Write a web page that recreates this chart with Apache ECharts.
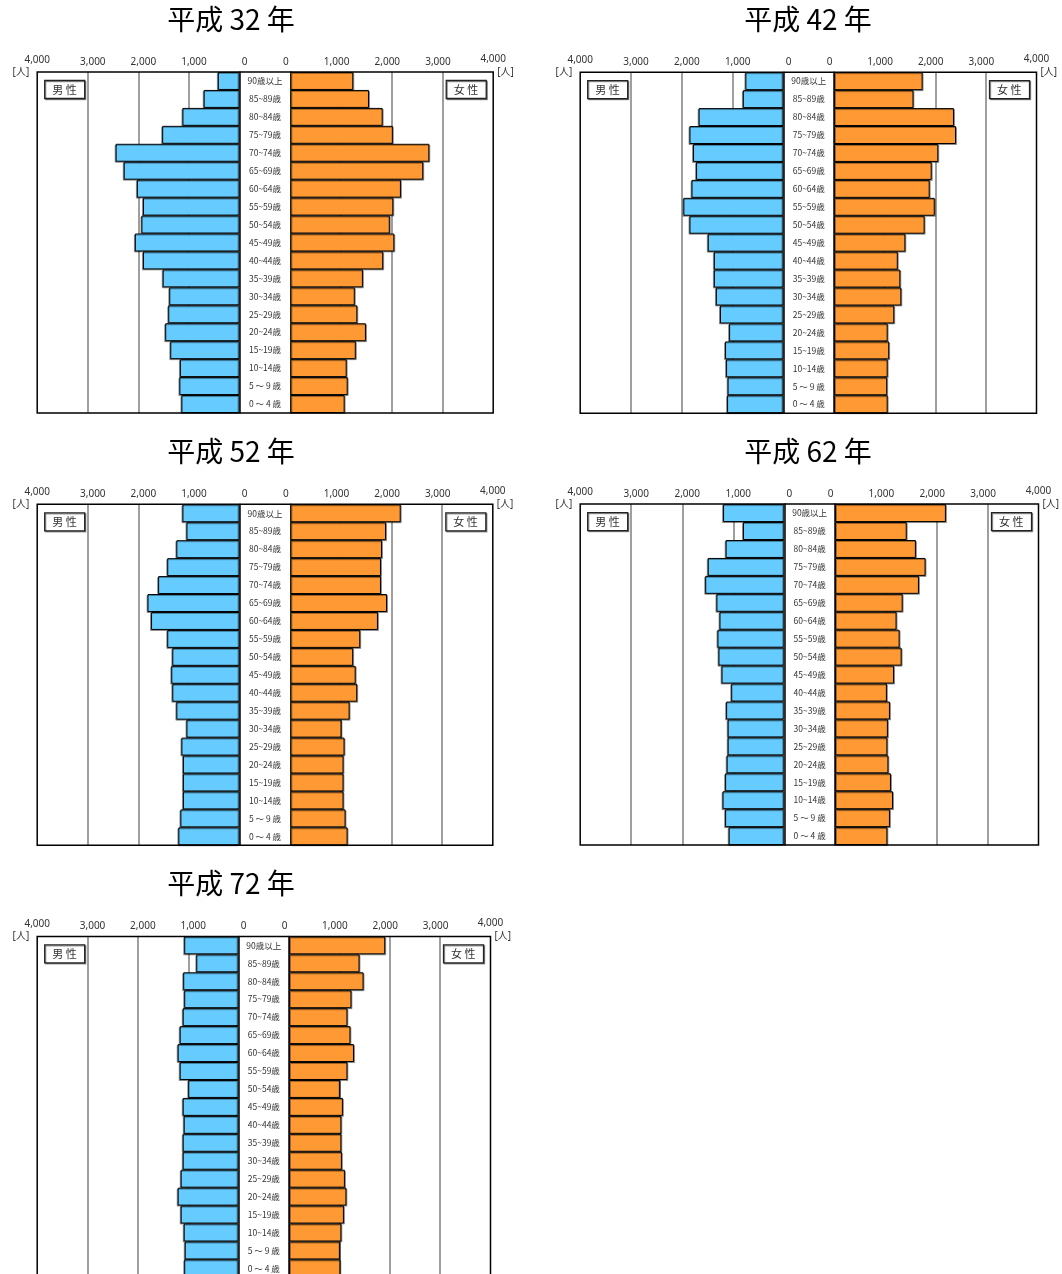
<!DOCTYPE html>
<html>
<head>
<meta charset="utf-8">
<title>人口ピラミッド</title>
<script src="https://cdn.jsdelivr.net/npm/echarts@6/dist/echarts.min.js"></script>
<style>
  html, body { margin: 0; padding: 0; background: #fff; }
  #chart { width: 1062px; height: 1274px; }
</style>
</head>
<body>
<div id="chart"></div>
<script>
const ages = ['90歳以上', '85~89歳', '80~84歳', '75~79歳', '70~74歳', '65~69歳', '60~64歳',
  '55~59歳', '50~54歳', '45~49歳', '40~44歳', '35~39歳', '30~34歳', '25~29歳',
  '20~24歳', '15~19歳', '10~14歳', '5 ～ 9 歳', '0 ～ 4 歳']
const xTicks = [0, 1000, 2000, 3000, 4000]
const titles = ['平成 32 年', '平成 42 年', '平成 52 年', '平成 62 年', '平成 72 年']

const male32 = [430, 710, 1130, 1530, 2450, 2290, 2030, 1910, 1940, 2070, 1910, 1520, 1390, 1410, 1470, 1370, 1180, 1190, 1150]
const female32 = [1240, 1550, 1820, 2020, 2740, 2620, 2180, 2030, 1960, 2050, 1830, 1430, 1270, 1320, 1490, 1290, 1110, 1130, 1070]
const male42 = [750, 800, 1670, 1850, 1780, 1720, 1810, 1970, 1850, 1490, 1370, 1370, 1330, 1250, 1070, 1150, 1130, 1100, 1110]
const female42 = [1750, 1570, 2370, 2410, 2060, 1930, 1890, 1990, 1790, 1410, 1260, 1310, 1330, 1190, 1060, 1090, 1060, 1050, 1060]
const male52 = [1130, 1050, 1250, 1430, 1610, 1820, 1750, 1430, 1330, 1350, 1330, 1250, 1050, 1150, 1120, 1120, 1120, 1170, 1210]
const female52 = [2180, 1890, 1810, 1790, 1790, 1910, 1730, 1380, 1240, 1290, 1320, 1170, 1010, 1070, 1050, 1050, 1050, 1090, 1130]
const male62 = [1200, 810, 1150, 1500, 1550, 1330, 1270, 1310, 1290, 1230, 1040, 1140, 1110, 1110, 1130, 1160, 1210, 1160, 1090]
const female62 = [2180, 1410, 1590, 1780, 1650, 1330, 1210, 1270, 1310, 1160, 1020, 1080, 1040, 1030, 1050, 1100, 1140, 1080, 1030]
const male72 = [1080, 840, 1100, 1080, 1110, 1170, 1210, 1170, 1000, 1110, 1090, 1110, 1110, 1150, 1210, 1150, 1090, 1070, 1080]
const female72 = [1910, 1400, 1480, 1240, 1160, 1220, 1290, 1160, 1010, 1070, 1040, 1040, 1050, 1110, 1140, 1090, 1040, 1010, 1020]

const maleData = [male32, male42, male52, male62, male72]
const femaleData = [female32, female42, female52, female62, female72]

// panel geometry: box left, male zero, female zero, box right, box top, title centre x
const layout = [
  { left: 37.2, mz: 239.6, fz: 290.4, right: 493.2, top: 72, tx: 231 },
  { left: 580.2, mz: 783.5, fz: 834, right: 1036.5, top: 72.2, tx: 808 },
  { left: 37.2, mz: 239.6, fz: 290.4, right: 492.8, top: 504.3, tx: 231 },
  { left: 580.2, mz: 784.3, fz: 835, right: 1038.5, top: 504.1, tx: 808 },
  { left: 37.2, mz: 238.6, fz: 289, right: 490.5, top: 936.4, tx: 231 }
]
const boxHeight = 341

const MALE_COLOR = '#66CCFF'
const FEMALE_COLOR = '#FF9933'
const TEXT_COLOR = '#333'
const FONT = '"Noto Sans", "Noto Sans CJK JP", sans-serif'
const JP_FONT = '"Noto Sans CJK JP", sans-serif'

const chart = echarts.init(document.getElementById('chart'), null, { renderer: 'canvas' })

const fmt = v => v.toLocaleString('en-US')
const tickLabel = v => (v === xTicks[xTicks.length - 1] ? '{e|' : '{s|') + fmt(v) + '}'

const grid = []
const xAxis = []
const yAxis = []
const series = []
const title = []

layout.forEach((p, i) => {
  const common = { top: p.top, height: boxHeight, outerBoundsMode: 'none', containLabel: false }
  grid.push(Object.assign({ left: p.left, width: p.mz - p.left }, common))
  grid.push(Object.assign({ left: p.fz, width: p.right - p.fz }, common))
  grid.push(Object.assign({
    left: p.left, width: p.right - p.left, show: true, z: 5,
    borderColor: '#000', borderWidth: 1.5, backgroundColor: 'transparent'
  }, common))

  const xBase = {
    type: 'value',
    min: xTicks[0],
    max: xTicks[xTicks.length - 1],
    interval: xTicks[1] - xTicks[0],
    position: 'top',
    axisLine: { show: false },
    axisTick: { show: false },
    splitLine: { show: true, showMinLine: false, showMaxLine: false, lineStyle: { color: '#7f7f7f', width: 1.5 } },
    name: '[人]',
    nameLocation: 'end',
    nameTextStyle: { fontSize: 10, color: TEXT_COLOR, fontFamily: FONT }
  }
  const labelBase = { fontSize: 10, color: TEXT_COLOR, margin: 5, fontFamily: FONT, formatter: tickLabel }
  xAxis.push(Object.assign({}, xBase, {
    gridIndex: i * 3,
    inverse: true,
    nameGap: 8,
    axisLabel: Object.assign({}, labelBase, {
      rich: {
        s: { fontSize: 10, color: TEXT_COLOR, fontFamily: FONT, padding: [0, 0, 0, 10] },
        e: { fontSize: 10, color: TEXT_COLOR, fontFamily: FONT, padding: [0, 0, 2, 0] }
      }
    })
  }))
  xAxis.push(Object.assign({}, xBase, {
    gridIndex: i * 3 + 1,
    nameGap: 4,
    axisLabel: Object.assign({}, labelBase, {
      rich: {
        s: { fontSize: 10, color: TEXT_COLOR, fontFamily: FONT, padding: [0, 9, 0, 0] },
        e: { fontSize: 10, color: TEXT_COLOR, fontFamily: FONT, padding: [0, 0, 3, 0] }
      }
    })
  }))

  const yBase = {
    type: 'category',
    data: ages,
    inverse: true,
    axisTick: { show: false },
    axisLine: { show: true, lineStyle: { color: '#000', width: 1.5 } }
  }
  yAxis.push(Object.assign({}, yBase, { gridIndex: i * 3, position: 'right', axisLabel: { show: false } }))
  yAxis.push(Object.assign({}, yBase, {
    gridIndex: i * 3 + 1,
    position: 'left',
    axisLabel: {
      show: true, align: 'center', margin: (p.fz - p.mz) / 2,
      fontSize: 8.5, color: TEXT_COLOR, fontFamily: JP_FONT
    }
  }))

  const barBase = {
    type: 'bar',
    barCategoryGap: '0%',
    silent: true,
    z: 3
  }
  series.push(Object.assign({}, barBase, {
    name: '男性',
    xAxisIndex: i * 2,
    yAxisIndex: i * 2,
    data: maleData[i],
    itemStyle: { color: MALE_COLOR, borderColor: '#000', borderWidth: 1, shadowColor: 'rgba(0,0,0,0.35)', shadowOffsetX: -1, shadowOffsetY: 1 }
  }))
  series.push(Object.assign({}, barBase, {
    name: '女性',
    xAxisIndex: i * 2 + 1,
    yAxisIndex: i * 2 + 1,
    data: femaleData[i],
    itemStyle: { color: FEMALE_COLOR, borderColor: '#000', borderWidth: 1, shadowColor: 'rgba(0,0,0,0.35)', shadowOffsetX: 1, shadowOffsetY: 1 }
  }))

  title.push({
    text: titles[i],
    left: p.tx,
    top: p.top - 67,
    textAlign: 'center',
    padding: 0,
    textStyle: { fontSize: 28, fontWeight: 'normal', color: '#000', fontFamily: JP_FONT }
  })
  const tagBase = {
    top: p.top + 8,
    padding: [4, 8, 4, 8],
    borderColor: '#222',
    borderWidth: 1.3,
    shadowColor: 'rgba(0,0,0,0.4)',
    shadowOffsetX: 1,
    shadowOffsetY: 1,
    backgroundColor: '#fff',
    textStyle: { fontSize: 11, fontWeight: 'normal', color: TEXT_COLOR, fontFamily: JP_FONT }
  }
  title.push(Object.assign({}, tagBase, { text: '男 性', left: p.left + 7 }))
  title.push(Object.assign({}, tagBase, { text: '女 性', right: 1062 - (p.right - 7) }))
})

chart.setOption({
  animation: false,
  backgroundColor: '#fff',
  title,
  grid,
  xAxis,
  yAxis,
  series
})
</script>
</body>
</html>
